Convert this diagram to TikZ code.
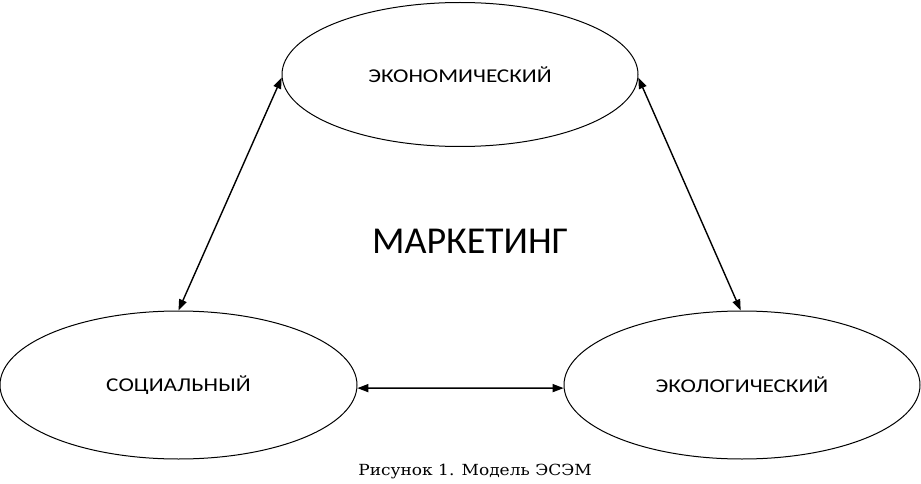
\documentclass[tikz,border=0pt]{standalone}
\usepackage{fontspec}
\setmainfont{Carlito}
\newfontfamily\capfont{DejaVu Serif}
\usetikzlibrary{shapes.geometric,arrows.meta}
\tikzset{
  oval/.style={draw, line width=1pt, ellipse, inner sep=0pt, minimum width=356pt, minimum height=144pt, font=\fontsize{23}{26}\selectfont},
  link/.style={line width=1.4pt, {Triangle[length=11pt,width=8pt]}-{Triangle[length=11pt,width=8pt]}}
}
\newcommand{\ovtext}[1]{\scalebox{1.01}[0.85]{#1}}
\begin{document}
\begin{tikzpicture}[x=1pt,y=-1pt]
\useasboundingbox (0,0) rectangle (921,484);
\node[oval] (eco) at (460,74.5) {\ovtext{ЭКОНОМИЧЕСКИЙ}};
\node[oval, minimum width=357pt, minimum height=148pt] (soc) at (178.5,385) {\ovtext{СОЦИАЛЬНЫЙ}};
\node[oval, minimum height=148pt] (ecol) at (742,385) {\ovtext{ЭКОЛОГИЧЕСКИЙ}};
\node[font=\fontsize{38}{42}\selectfont] (mkt) at (470,241) {МАРКЕТИНГ};
\node[font=\capfont\fontsize{17}{20}\selectfont] (cap) at (475,472) {\scalebox{1}[0.9]{Рисунок 1. Модель ЭСЭМ}};
\draw[link] (eco.181) -- (soc.90);
\draw[link] (eco.359) -- (ecol.91.5);
\draw[link] (soc.-1) -- (ecol.181);
\end{tikzpicture}
\end{document}
